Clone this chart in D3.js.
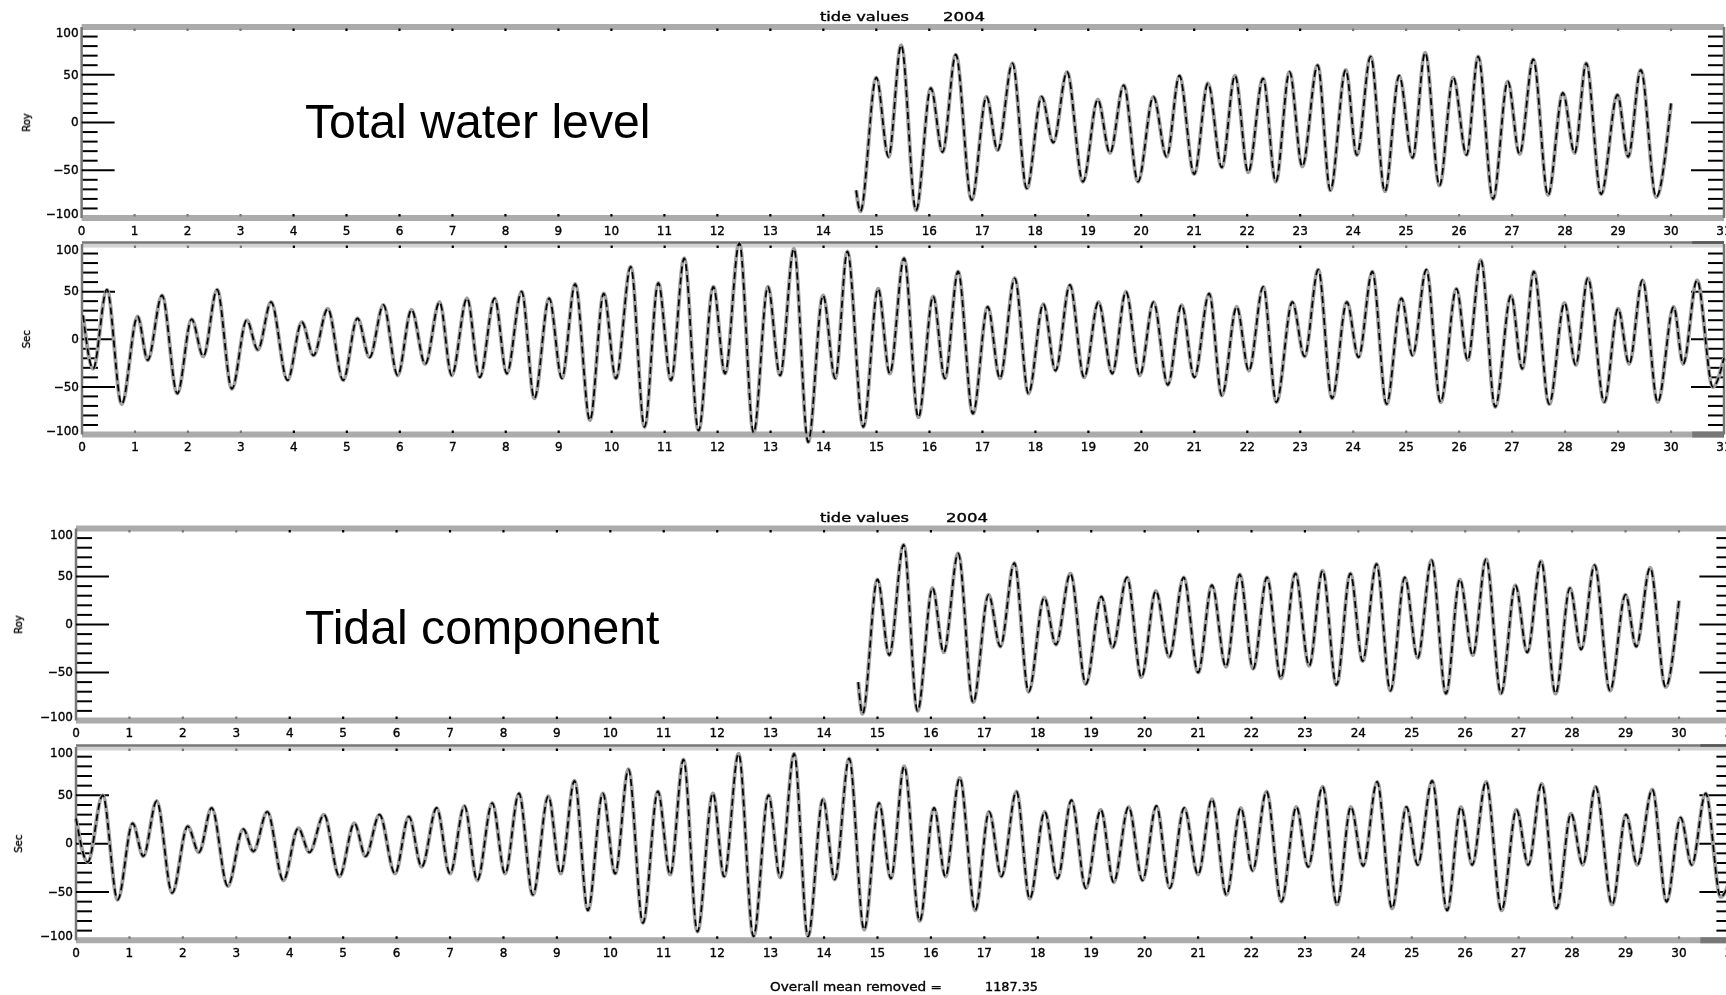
<!DOCTYPE html>
<html>
<head>
<meta charset="utf-8">
<style>
  html, body { margin: 0; padding: 0; background: #fff; overflow: hidden; }
  svg { display: block; }
  text { fill: #000; }
  .small { font-family: "DejaVu Sans", sans-serif; font-size: 12px; stroke: #000; stroke-width: 0.35px; }
  .big { font-family: "Liberation Sans", Arial, sans-serif; font-size: 48.2px; }
</style>
<script src="https://cdn.jsdelivr.net/npm/d3@7"></script>
</head>
<body>
<div id="chart"></div>
<script>
// turning points: day of month, level
var totalRoyDays = [14.62,14.70,15.0,15.23,15.47,15.75,16.03,16.25,16.5,16.8,17.08,17.29,17.57,17.84,18.12,18.34,18.6,18.9,19.18,19.41,19.67,19.94,20.23,20.48,20.72,21.0,21.26,21.52,21.77,22.02,22.3,22.54,22.8,23.04,23.33,23.57,23.86,24.07,24.33,24.6,24.87,25.12,25.36,25.63,25.89,26.14,26.36,26.64,26.92,27.14,27.4,27.68,27.96,28.18,28.4,28.68,28.99,29.19,29.43,29.72,30.0];
var totalRoyLevels = [-71,-93,47,-36,81,-92,36,-31,71,-81,27,-29,62,-69,27,-21,53,-62,24,-32,39,-62,27,-36,49,-54,41,-47,49,-52,46,-62,53,-46,60,-71,55,-34,69,-72,49,-37,73,-66,47,-34,69,-80,43,-33,66,-76,31,-32,62,-75,29,-36,55,-78,20];

var totalSecDays = [0.02,0.21,0.47,0.75,1.05,1.24,1.51,1.8,2.07,2.29,2.55,2.83,3.11,3.32,3.57,3.88,4.15,4.37,4.64,4.93,5.2,5.43,5.69,5.96,6.22,6.48,6.75,6.98,7.27,7.51,7.79,8.02,8.3,8.54,8.82,9.06,9.31,9.59,9.85,10.08,10.36,10.62,10.88,11.12,11.37,11.64,11.92,12.14,12.41,12.68,12.95,13.18,13.44,13.71,13.99,14.22,14.45,14.75,15.03,15.25,15.52,15.79,16.07,16.29,16.54,16.82,17.1,17.33,17.61,17.87,18.15,18.38,18.65,18.92,19.19,19.45,19.71,19.97,20.23,20.5,20.76,21.0,21.28,21.52,21.8,22.03,22.3,22.55,22.85,23.08,23.34,23.6,23.88,24.1,24.36,24.63,24.91,25.12,25.38,25.65,25.95,26.16,26.41,26.68,26.98,27.19,27.41,27.7,27.99,28.2,28.43,28.74,29.0,29.21,29.46,29.75,30.05,30.23,30.49,30.79,31.0];
var totalSecLevels = [25,-31,52,-68,24,-22,46,-57,21,-18,52,-52,20,-11,39,-43,18,-17,32,-43,22,-19,36,-38,31,-26,39,-38,43,-40,43,-36,50,-62,43,-41,58,-85,48,-41,76,-92,59,-43,85,-96,55,-36,101,-98,55,-38,95,-108,46,-41,92,-92,53,-36,85,-82,45,-41,71,-78,34,-41,64,-57,37,-33,57,-40,39,-36,50,-38,39,-48,36,-40,48,-59,34,-33,55,-66,39,-18,73,-62,39,-19,71,-68,43,-17,73,-66,53,-22,83,-71,46,-31,71,-68,38,-27,64,-66,32,-26,62,-66,34,-26,62,-50,-20];

var tidalRoyDays = [14.64,14.72,15.0,15.22,15.49,15.75,16.03,16.24,16.51,16.79,17.08,17.3,17.56,17.83,18.12,18.34,18.61,18.9,19.19,19.4,19.67,19.94,20.21,20.46,20.73,21.0,21.26,21.52,21.78,22.03,22.29,22.55,22.82,23.08,23.33,23.59,23.85,24.08,24.34,24.6,24.87,25.11,25.37,25.64,25.9,26.14,26.39,26.67,26.94,27.16,27.42,27.69,27.96,28.17,28.42,28.71,29.0,29.2,29.46,29.75,30.0];
var tidalRoyLevels = [-60,-93,47,-32,83,-90,38,-29,74,-81,31,-23,64,-70,28,-21,53,-62,29,-24,49,-55,35,-34,49,-50,41,-44,52,-46,49,-56,53,-43,56,-63,53,-38,63,-69,49,-35,67,-72,47,-32,68,-72,41,-29,66,-72,38,-26,62,-69,31,-23,59,-65,25];

var tidalSecDays = [0.0,0.22,0.5,0.78,1.06,1.26,1.51,1.8,2.09,2.3,2.54,2.84,3.13,3.32,3.58,3.88,4.16,4.37,4.64,4.93,5.21,5.42,5.68,5.97,6.23,6.47,6.75,7.0,7.27,7.51,7.79,8.03,8.29,8.55,8.84,9.07,9.33,9.58,9.86,10.09,10.34,10.61,10.89,11.12,11.37,11.63,11.92,12.13,12.4,12.68,12.96,13.18,13.44,13.7,13.98,14.2,14.47,14.75,15.03,15.25,15.5,15.79,16.06,16.27,16.54,16.83,17.09,17.32,17.6,17.85,18.13,18.37,18.63,18.9,19.18,19.42,19.7,19.96,20.22,20.47,20.74,21.0,21.26,21.53,21.8,22.02,22.28,22.56,22.84,23.06,23.33,23.6,23.86,24.09,24.35,24.63,24.9,25.11,25.38,25.66,25.92,26.13,26.39,26.68,26.96,27.18,27.43,27.71,27.98,28.2,28.44,28.75,29.01,29.22,29.5,29.77,30.03,30.24,30.5,30.78,31.0];
var tidalSecLevels = [26,-19,50,-58,21,-13,44,-51,18,-9,37,-44,15,-8,33,-38,16,-9,30,-34,21,-13,30,-31,28,-24,37,-31,39,-38,42,-31,52,-53,49,-31,65,-69,52,-31,77,-82,54,-32,87,-91,52,-34,93,-96,50,-35,93,-96,46,-37,88,-89,42,-36,80,-80,37,-34,68,-69,33,-34,54,-57,33,-36,45,-46,35,-40,38,-38,39,-46,37,-32,46,-53,37,-28,54,-60,38,-24,59,-63,38,-23,64,-67,38,-22,65,-69,38,-22,64,-69,35,-22,62,-67,31,-22,59,-63,30,-22,56,-60,27,-22,52,-55,-30];

var dayTicks = d3.range(0, 32);
var majorTicks = [-100, -50, 0, 50, 100];
var minorTicks = [-90,-80,-70,-60,-40,-30,-20,-10,10,20,30,40,60,70,80,90];

var width = 1726, height = 995;

var svg = d3.select("#chart")
      .append("svg")
      .attr("width", width)
      .attr("height", height);

// soft edge, the reference is a scaled down bitmap
var defs = svg.append("defs");
defs.append("filter").attr("id", "soft")
      .attr("x", "-5%").attr("y", "-20%").attr("width", "110%").attr("height", "140%")
      .append("feGaussianBlur").attr("stdDeviation", 0.5);

function drawPanel(p) {
      var x = d3.scaleLinear().domain([0, 31]).range([p.left, p.right]);
      var y = d3.scaleLinear().domain([-100, 100]).range([p.bottom, p.top]);
      var g = svg.append("g");

      function dayColor(d) {
            return (d >= 1 && d <= 3) || d >= 24 ? "#777" : "#000";
      }

      // top and bottom bands with the little day ticks
      var top = g.append("g")
            .attr("transform", "translate(0," + p.top + ")")
            .call(d3.axisBottom(x).tickValues(dayTicks.slice(1, 31)).tickSize(0).tickSizeOuter(0).tickFormat("").offset(0));
      if (p.splitTop) {
            g.append("line")
                  .attr("x1", p.left).attr("x2", p.right)
                  .attr("y1", p.top + 1.5).attr("y2", p.top + 1.5)
                  .attr("stroke", "#d2d2d2").attr("stroke-width", 4);
            top.select(".domain").attr("stroke", "#777").attr("stroke-width", 2.5)
                  .attr("transform", "translate(0,-1.5)");
            top.raise();
            // the last stretch of this frame came out darker in the bitmap
            g.append("line")
                  .attr("x1", x(30.4)).attr("x2", p.right)
                  .attr("y1", p.top - 1.5).attr("y2", p.top - 1.5)
                  .attr("stroke", "#555").attr("stroke-width", 2.5);
      } else {
            top.select(".domain").attr("stroke", "#ababab").attr("stroke-width", 6);
      }

      var bottom = g.append("g")
            .attr("transform", "translate(0," + p.bottom + ")")
            .call(d3.axisBottom(x).tickValues(dayTicks).tickSize(0).tickSizeOuter(0).tickPadding(8)
                  .tickFormat(d3.format("d")).offset(0));
      bottom.select(".domain").attr("stroke", "#ababab").attr("stroke-width", 6);
      bottom.selectAll("text").attr("class", "small").attr("filter", "url(#soft)")
            .attr("text-anchor", "middle");
      if (p.splitTop) {
            g.append("line")
                  .attr("x1", x(30.4)).attr("x2", p.right)
                  .attr("y1", p.bottom).attr("y2", p.bottom)
                  .attr("stroke", "#777").attr("stroke-width", 6);
      }

      // y axes on both sides
      [["left", p.left, 1], ["right", p.right, -1]].forEach(function (s) {
            var maker = s[2] > 0 ? d3.axisRight : d3.axisLeft;
            var minor = g.append("g").attr("transform", "translate(" + s[1] + ",0)")
                  .call(maker(y).tickValues(minorTicks).tickSize(16).tickSizeOuter(0).tickFormat("").offset(0));
            minor.selectAll("line").attr("stroke", "#000").attr("stroke-width", 2);
            var major = g.append("g").attr("transform", "translate(" + s[1] + ",0)")
                  .call(maker(y).tickValues(majorTicks.slice(1, 4)).tickSize(33).tickSizeOuter(0).tickFormat("").offset(0));
            major.selectAll("line").attr("stroke", "#000").attr("stroke-width", 2);
            major.select(".domain").attr("stroke", "#777").attr("stroke-width", 2.5);
            minor.select(".domain").attr("stroke", "none");
      });

      // the y tick labels sit outside the frame
      g.append("g").attr("transform", "translate(" + p.left + ",0)")
            .call(d3.axisLeft(y).tickValues(majorTicks).tickSize(0).tickPadding(3).tickFormat(function (d) {
                  return d < 0 ? "\u2212" + (-d) : d;
            }).offset(0))
            .call(function (a) {
                  a.select(".domain").remove();
                  a.selectAll("text").attr("class", "small").attr("filter", "url(#soft)");
                  // the top label hangs a little below the frame, the bottom one above
                  a.selectAll("g.tick").filter(function (d) { return d === 100; }).select("text").attr("dy", "0.85em");
                  a.selectAll("g.tick").filter(function (d) { return d === -100; }).select("text").attr("dy", "0");
            });

      // day ticks drawn last on the bands
      [[p.top + 1.5, d3.axisBottom], [p.bottom - 1.5, d3.axisTop]].forEach(function (s) {
            var t = g.append("g").attr("transform", "translate(0," + s[0] + ")")
                  .call(s[1](x).tickValues(dayTicks.slice(1, 31)).tickSize(2.5).tickSizeOuter(0).tickFormat("").offset(0));
            t.select(".domain").remove();
            t.selectAll("line").attr("stroke", dayColor).attr("stroke-width", 2.2);
      });

      // the series, wide grey under a broken dark core like the reference
      var line = d3.line()
            .x(function (d) { return x(d[0]); })
            .y(function (d) { return y(d[1]); })
            .curve(d3.curveMonotoneX);
      var points = d3.zip(p.days, p.levels);
      g.append("path").datum(points).attr("d", line)
            .attr("fill", "none").attr("stroke", "#a0a0a0").attr("stroke-width", 4);
      g.append("path").datum(points).attr("d", line)
            .attr("fill", "none").attr("stroke", "#000").attr("stroke-width", 1.7)
            .attr("stroke-dasharray", "7 4");

      // station label
      g.append("text").attr("class", "small").attr("filter", "url(#soft)")
            .attr("transform", "translate(" + p.labelX + "," + y(0) + ") rotate(-90)")
            .attr("text-anchor", "middle")
            .style("font-size", "10px")
            .text(p.label);
}

var panels = [
      {label: "Roy", days: totalRoyDays, levels: totalRoyLevels, left: 81.6, right: 1724, top: 27, bottom: 218, labelX: 30, splitTop: false},
      {label: "Sec", days: totalSecDays, levels: totalSecLevels, left: 82, right: 1724, top: 244, bottom: 434.5, labelX: 30, splitTop: true},
      {label: "Roy", days: tidalRoyDays, levels: tidalRoyLevels, left: 76, right: 1732.4, top: 528.5, bottom: 720.5, labelX: 22, splitTop: false},
      {label: "Sec", days: tidalSecDays, levels: tidalSecLevels, left: 76, right: 1732.4, top: 747, bottom: 940.3, labelX: 22, splitTop: true}
];
panels.forEach(drawPanel);

// titles and notes
function note(str, x0, x1, yy) {
      svg.append("text").attr("class", "small").attr("filter", "url(#soft)")
            .attr("x", x0).attr("y", yy)
            .attr("textLength", x1 - x0).attr("lengthAdjust", "spacingAndGlyphs")
            .text(str);
}
note("tide values", 820, 909, 21);
note("2004", 943, 985, 21);
note("tide values", 820, 909, 522);
note("2004", 946, 988, 522);
note("Overall mean removed =", 770, 942, 991);
note("1187.35", 985, 1038, 991);

svg.append("text").attr("class", "big").attr("x", 305).attr("y", 138).text("Total water level");
svg.append("text").attr("class", "big").attr("x", 305).attr("y", 644).text("Tidal component");
</script>
</body>
</html>
